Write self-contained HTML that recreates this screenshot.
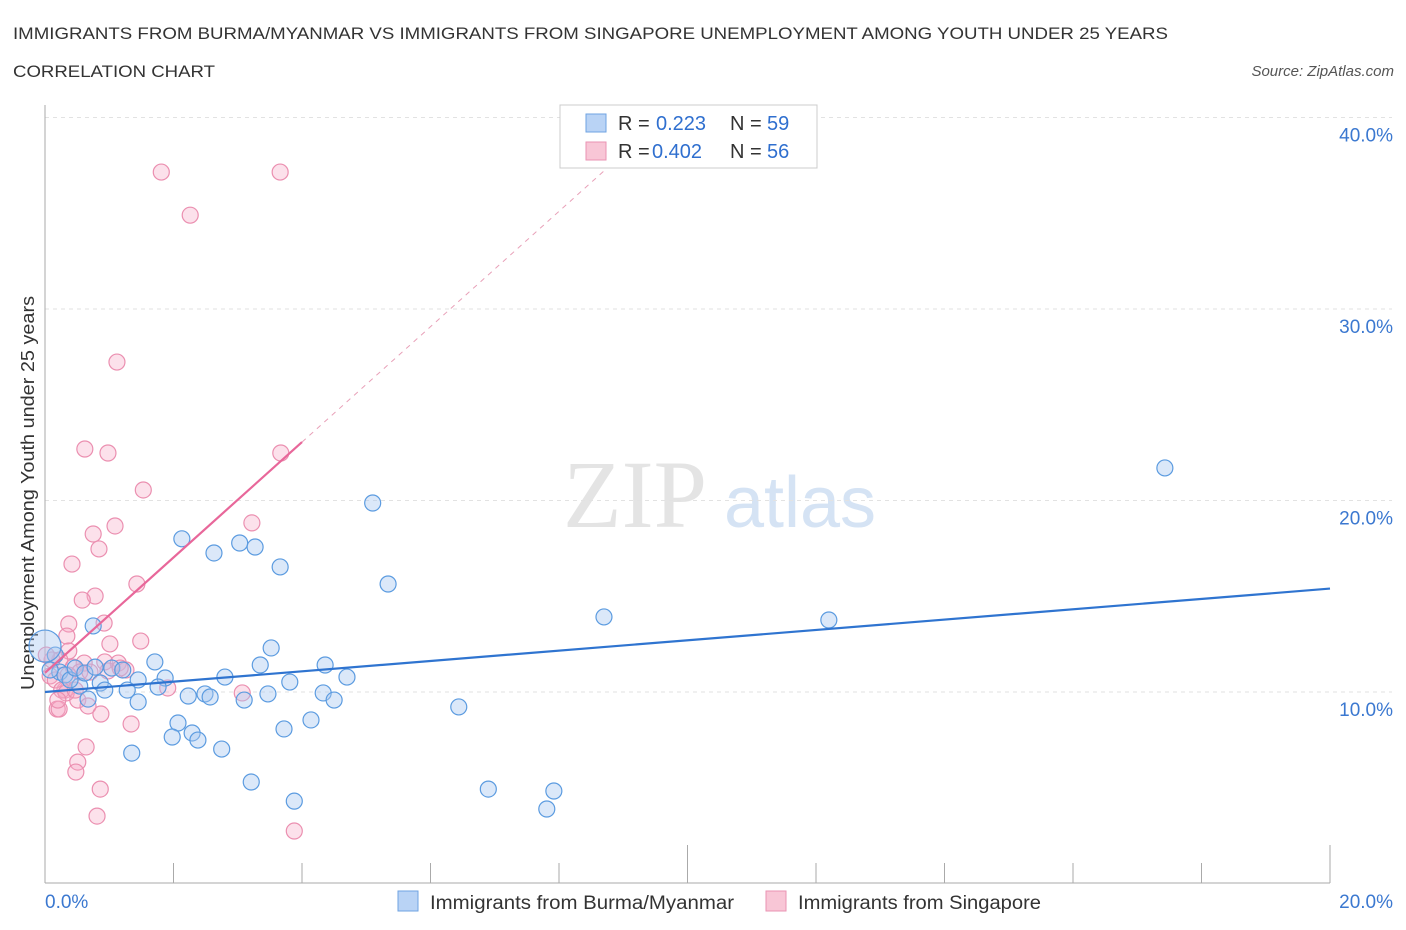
<!DOCTYPE html>
<html><head><meta charset="utf-8"><style>
body{margin:0;background:#fff;font-family:"Liberation Sans",sans-serif}
svg{display:block}
</style></head><body>
<svg id="c" width="1406" height="930" xmlns="http://www.w3.org/2000/svg">
<text x="13" y="39" font-size="17" fill="#333" textLength="1155" lengthAdjust="spacingAndGlyphs">IMMIGRANTS FROM BURMA/MYANMAR VS IMMIGRANTS FROM SINGAPORE UNEMPLOYMENT AMONG YOUTH UNDER 25 YEARS</text>
<text x="13" y="77" font-size="17" fill="#333" textLength="202" lengthAdjust="spacingAndGlyphs">CORRELATION CHART</text>
<text x="1394" y="76" font-size="15" fill="#555" font-style="italic" text-anchor="end">Source: ZipAtlas.com</text>
<text x="635" y="527" font-size="96" fill="#e4e4e4" font-family="Liberation Serif,serif" text-anchor="middle">ZIP</text>
<text x="800" y="527" font-size="72" fill="#d5e3f4" text-anchor="middle">atlas</text>
<text transform="translate(34,493) rotate(-90)" font-size="18" fill="#333" text-anchor="middle" textLength="394" lengthAdjust="spacingAndGlyphs">Unemployment Among Youth under 25 years</text>
<g id="grid"></g><g id="marks"></g>
<g>
<rect x="560" y="105" width="257" height="63" fill="#fff" stroke="#ccc"/>
<rect x="586" y="114" width="20" height="18" fill="#b9d3f5" stroke="#6fa3e2"/>
<rect x="586" y="142" width="20" height="18" fill="#f8c6d6" stroke="#ea93b3"/>
<text x="618" y="130" font-size="20" fill="#333">R =</text>
<text x="656" y="130" font-size="20" fill="#2f6fcf">0.223</text>
<text x="730" y="130" font-size="20" fill="#333">N =</text>
<text x="767" y="130" font-size="20" fill="#2f6fcf">59</text>
<text x="618" y="158" font-size="20" fill="#333">R =</text>
<text x="652" y="158" font-size="20" fill="#2f6fcf">0.402</text>
<text x="730" y="158" font-size="20" fill="#333">N =</text>
<text x="767" y="158" font-size="20" fill="#2f6fcf">56</text>
</g>
<g>
<rect x="398" y="891" width="20" height="20" fill="#b9d3f5" stroke="#6fa3e2"/>
<text x="430" y="909" font-size="19" fill="#333" textLength="304" lengthAdjust="spacingAndGlyphs">Immigrants from Burma/Myanmar</text>
<rect x="766" y="891" width="20" height="20" fill="#f8c6d6" stroke="#ea93b3"/>
<text x="798" y="909" font-size="19" fill="#333" textLength="243" lengthAdjust="spacingAndGlyphs">Immigrants from Singapore</text>
</g>
</svg>
<script>
const yTicks=[10,20,30,40];
const yTickLabels=["10.0%","20.0%","30.0%","40.0%"];
const xTickLabels=["0.0%","20.0%"];
const blueX=[17.43,5.1,2.13,2.63,3.03,3.27,3.66,5.34,8.7,12.2,0.75,3.52,1.71,3.35,4.36,1.04,1.21,4.7,1.45,1.87,2.8,3.81,0.86,0.54,0.93,1.28,1.76,2.23,2.49,2.57,3.1,3.47,4.33,4.5,1.45,0.67,6.44,2.07,1.98,2.29,2.38,4.14,3.72,2.75,1.35,3.21,3.88,6.9,7.92,7.81,0.23,0.31,0.39,0.08,0.47,0.16,0.0,0.62,0.78];
const blueY=[21.7,19.87,18.0,17.26,17.78,17.57,16.53,15.64,13.92,13.76,13.45,12.3,11.57,11.41,11.41,11.25,11.15,10.78,10.63,10.73,10.78,10.52,10.47,10.31,10.1,10.1,10.26,9.79,9.9,9.74,9.58,9.9,9.95,9.58,9.48,9.63,9.22,8.38,7.65,7.86,7.49,8.54,8.07,7.02,6.81,5.3,4.3,4.93,4.83,3.89,11.04,10.89,10.63,11.15,11.25,11.93,12.4,10.99,11.3];
const pinkX=[1.81,3.66,2.26,1.12,0.62,0.98,1.53,3.22,1.09,0.75,0.84,0.42,1.43,0.78,0.58,0.92,0.37,1.01,1.49,0.34,0.37,0.23,0.61,0.93,1.14,1.26,0.44,0.54,0.98,1.91,3.07,0.31,0.51,0.67,0.87,0.19,0.22,1.34,0.64,0.51,0.48,0.86,0.81,3.88,3.67,0.08,0.16,0.26,0.7,1.17,0.11,0.33,0.47,0.36,0.02,0.2];
const pinkY=[37.15,37.15,34.9,27.23,22.69,22.48,20.55,18.83,18.67,18.25,17.47,16.68,15.64,15.01,14.8,13.6,13.55,12.51,12.66,12.92,12.14,11.67,11.51,11.57,11.51,11.15,11.3,11.04,11.1,10.21,9.95,10.1,9.58,9.27,8.85,9.11,9.11,8.33,7.13,6.34,5.82,4.93,3.52,2.74,22.48,10.84,10.63,10.1,11.04,11.25,11.67,9.95,10.1,10.89,11.93,9.58];
const blueTrend=[10.0,15.4];
const pinkTrend=[11.0,23.05];
const X=v=>45+v*64.25, Y=v=>883.5-v*19.15;
const NS="http://www.w3.org/2000/svg";
const g=document.getElementById('grid'), m=document.getElementById('marks');
function el(t,a,p){const e=document.createElementNS(NS,t);for(const k in a)e.setAttribute(k,a[k]);p.appendChild(e);return e;}
yTicks.forEach((v,i)=>{
 const l=el('line',{x1:45,x2:1392,y1:Y(v),y2:Y(v),stroke:'#e2e2e2','stroke-dasharray':'4,4'},g);
 
 
 const t=el('text',{x:1393,y:Y(v)+24,'font-size':19,fill:'#3b78d0','text-anchor':'end'},g);t.textContent=yTickLabels[i];
 
 
});
const ax=el('line',{x1:45,x2:1330,y1:883,y2:883,stroke:'#aaa'},g);


const ay=el('line',{x1:45,x2:45,y1:105,y2:883,stroke:'#aaa'},g);


for(let i=0;i<=10;i++){const tk=el('line',{x1:X(i*2),x2:X(i*2),y1:883,y2:(i==5||i==10)?845:863,stroke:'#aaa'},g);
 
 }
[[0,'start',45],[1,'end',1393]].forEach(([i,a,x])=>{const t=el('text',{x:x,y:908,'font-size':19,fill:'#3b78d0','text-anchor':a},g);t.textContent=xTickLabels[i];
 
 });
function pts(xs,ys,fill,stroke,name){xs.forEach((x,i)=>{const c=el('circle',{cx:X(x),cy:Y(ys[i]),r:(name=='blue-point'&&i==56)?16:8,fill:fill,stroke:stroke,'stroke-width':1.2},m);
 
 });}
pts(pinkX,pinkY,'rgba(245,170,198,0.35)','#eb8fb0','pink-point');
pts(blueX,blueY,'rgba(165,198,240,0.4)','#5b9be0','blue-point');
const slope=(pinkTrend[1]-pinkTrend[0])/4;
const pd=el('line',{x1:X(4),y1:Y(pinkTrend[1]),x2:X(4+(40-pinkTrend[1])/slope),y2:Y(40),stroke:'#e8a0b8','stroke-dasharray':'5,5'},m);


const pl=el('line',{x1:X(0),y1:Y(pinkTrend[0]),x2:X(4),y2:Y(pinkTrend[1]),stroke:'#e8679a','stroke-width':2.2},m);


const bl=el('line',{x1:X(0),y1:Y(blueTrend[0]),x2:X(20),y2:Y(blueTrend[1]),stroke:'#2f74d0','stroke-width':2.2},m);


</script>
</body></html>
